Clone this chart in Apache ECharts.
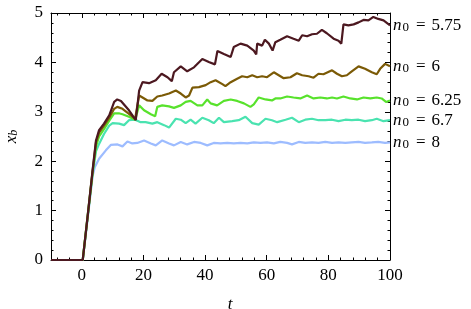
<!DOCTYPE html>
<html><head><meta charset="utf-8">
<script src="https://cdn.jsdelivr.net/npm/echarts@6/dist/echarts.min.js"></script>
<style>html,body{margin:0;padding:0;background:#fff}#c{width:471px;height:309px}</style>
</head><body><div id="c"></div>
<script>
// n0 labels, drawn in order from bottom layer to top layer
const n0Labels = ['8', '6.7', '6.25', '6', '5.75'];
const lineColors = ['#9dbcff', '#4ae3b0', '#58e22c', '#7b5a06', '#4c1820'];

const curve8 = [[-10,0],[0.3,0],[2,0.9],[3.5,1.7],[4.2,1.88],[5.6,2.05],[7.8,2.22],[9.4,2.33],[11.6,2.34],[13.2,2.30],[14.8,2.40],[16.4,2.36],[18.0,2.37],[20.2,2.42],[22.4,2.36],[24,2.32],[26.1,2.42],[28.3,2.36],[29.9,2.32],[32.1,2.39],[34.2,2.34],[36.4,2.39],[38.6,2.37],[40.7,2.32],[42.8,2.37],[45.0,2.36],[47.2,2.37],[49.3,2.36],[51.5,2.37],[53.7,2.36],[55.8,2.38],[58.0,2.37],[60.1,2.38],[62.3,2.36],[64.4,2.39],[66.6,2.37],[68.2,2.34],[70.4,2.39],[72.5,2.37],[74.7,2.38],[76.8,2.37],[79.0,2.39],[81.2,2.37],[83.3,2.38],[85.5,2.37],[87.6,2.38],[89.8,2.39],[91.9,2.37],[94.1,2.38],[96.2,2.39],[98.4,2.37],[100,2.38]];

const curve67 = [[-10,0],[0.3,0],[2,0.93],[3.5,1.75],[4.6,2.2],[5.6,2.35],[7.2,2.55],[8.9,2.72],[10,2.77],[12.1,2.76],[13.7,2.73],[15.3,2.83],[17.3,2.84],[19.1,2.79],[20.7,2.79],[22.9,2.76],[24.5,2.79],[26.7,2.73],[28.3,2.68],[30.5,2.86],[32.1,2.84],[33.7,2.77],[35.3,2.84],[36.9,2.76],[39.1,2.88],[41.2,2.83],[42.8,2.77],[44.5,2.88],[46.1,2.79],[48.8,2.81],[50.9,2.83],[53.1,2.90],[55.3,2.77],[57.4,2.74],[59.6,2.86],[61.7,2.83],[63.4,2.79],[66.1,2.84],[68.2,2.88],[70.4,2.79],[72.5,2.84],[74.7,2.86],[76.8,2.83],[79.0,2.83],[81.2,2.84],[83.3,2.81],[85.5,2.84],[87.6,2.83],[89.8,2.84],[91.9,2.81],[94.1,2.83],[95.7,2.86],[97.9,2.81],[100,2.83]];

const curve625 = [[-10,0],[0.3,0],[2,0.95],[3.5,1.78],[4.6,2.3],[5.6,2.5],[7.2,2.65],[8.9,2.82],[10.5,2.97],[12,2.97],[13.2,2.95],[15.3,2.90],[17.3,2.84],[18.6,3.13],[20.2,3.03],[22.4,2.95],[23.8,2.91],[24.5,3.10],[26.1,3.13],[28.3,3.11],[29.9,3.08],[32.1,3.13],[33.7,3.20],[35.3,3.22],[37.5,3.13],[39.1,3.13],[40.7,3.25],[41.8,3.17],[43.9,3.13],[46.1,3.22],[48.3,3.25],[50.4,3.22],[52.6,3.17],[54.7,3.10],[55.8,3.15],[57.4,3.29],[59.6,3.25],[61.7,3.23],[62.8,3.27],[64.4,3.27],[66.6,3.31],[68.7,3.29],[70.9,3.27],[73.1,3.33],[75.2,3.27],[77.4,3.29],[79.5,3.27],[81.2,3.29],[82.8,3.27],[84.9,3.31],[87.1,3.27],[89.3,3.25],[91.4,3.29],[93.6,3.27],[95.7,3.29],[97.3,3.27],[98.7,3.20],[100,3.23]];

const curve6 = [[-10,0],[0.3,0],[2,0.95],[3.5,1.8],[4.6,2.38],[5.6,2.58],[7.2,2.72],[8.9,2.88],[10.5,3.06],[11.5,3.10],[13.2,3.06],[15.3,2.96],[17.3,2.86],[18.6,3.33],[19.7,3.29],[21.3,3.23],[22.9,3.22],[24.5,3.31],[26.1,3.33],[28.3,3.37],[30.5,3.43],[32.1,3.37],[33.7,3.29],[34.8,3.33],[35.9,3.49],[38.0,3.50],[40.2,3.54],[41.8,3.60],[43.4,3.64],[45.6,3.56],[46.6,3.52],[48.3,3.60],[50.4,3.67],[52.0,3.72],[53.7,3.70],[55.3,3.74],[56.9,3.70],[58.5,3.72],[60.1,3.70],[62.3,3.80],[63.9,3.74],[65.5,3.68],[67.7,3.70],[69.8,3.78],[71.5,3.74],[73.6,3.72],[75.2,3.69],[76.8,3.77],[78.4,3.76],[81.2,3.84],[82.8,3.77],[84.4,3.72],[86.0,3.74],[87.6,3.82],[89.8,3.92],[91.9,3.87],[94.1,3.80],[95.7,3.76],[96.8,3.87],[98.4,3.97],[100,3.92]];

const curve575 = [[-10,0],[0.3,0],[2,0.95],[3.5,1.82],[4.6,2.42],[5.6,2.63],[7.2,2.76],[8.9,2.93],[10.5,3.20],[11.5,3.25],[12.7,3.22],[15.3,3.03],[17.5,2.83],[18.6,3.43],[19.7,3.60],[21.8,3.58],[24,3.64],[25.9,3.77],[27.8,3.70],[29.2,3.62],[29.9,3.80],[32.1,3.92],[34.2,3.82],[36.4,3.90],[39.1,4.07],[41.2,4.01],[43.2,3.96],[44.0,4.23],[46.1,4.17],[48.3,4.11],[49.3,4.31],[51.5,4.38],[53.7,4.34],[55.8,4.24],[56.6,4.16],[56.9,4.38],[58.5,4.34],[59.4,4.46],[60.7,4.38],[61.9,4.24],[62.8,4.41],[64.4,4.46],[66.6,4.53],[68.7,4.48],[70.4,4.44],[71.5,4.55],[73.1,4.53],[74.7,4.57],[76.3,4.58],[77.9,4.66],[79.5,4.59],[81.7,4.48],[83.3,4.44],[84.2,4.38],[84.9,4.77],[86.5,4.75],[88.2,4.77],[89.8,4.81],[91.4,4.86],[93.0,4.85],[94.6,4.92],[96.2,4.88],[97.9,4.85],[100,4.75]];

const curves = [curve8, curve67, curve625, curve6, curve575];

const FONT = 'Liberation Serif';
const richMath = {
  i: { fontFamily: FONT, fontStyle: 'italic', fontSize: 17, color: '#000' },
  s: { fontFamily: FONT, fontSize: 13, color: '#000', verticalAlign: 'bottom', lineHeight: 12, padding: [0, 0, 0, 1] },
  si: { fontFamily: FONT, fontStyle: 'italic', fontSize: 12, color: '#000', verticalAlign: 'bottom', lineHeight: 12 },
  e: { fontFamily: FONT, fontSize: 17, color: '#000', padding: [0, 6, 0, 7] },
  r: { fontFamily: FONT, fontSize: 17, color: '#000' }
};

const tickStyle = { lineStyle: { color: '#000', width: 1 } };
function mkX(pos, labels) {
  return {
    type: 'value', position: pos, min: -10, max: 100, splitNumber: 5,
    axisLine: { show: true, onZero: false, lineStyle: { color: '#000', width: 1 } },
    axisTick: { show: true, inside: true, length: 5, ...tickStyle },
    minorTick: { show: true, splitNumber: 5, length: 2.5, ...tickStyle },
    splitLine: { show: false },
    axisLabel: { show: labels, margin: 7, fontFamily: FONT, fontSize: 17, color: '#000',
      formatter: v => (v < 0 ? '' : String(v)) }
  };
}
function mkY(pos, labels) {
  return {
    type: 'value', position: pos, min: 0, max: 5, interval: 1,
    axisLine: { show: true, onZero: false, lineStyle: { color: '#000', width: 1 } },
    axisTick: { show: true, inside: true, length: 5, ...tickStyle },
    minorTick: { show: true, splitNumber: 5, length: 2.5, ...tickStyle },
    splitLine: { show: false },
    axisLabel: { show: labels, margin: 8, fontFamily: FONT, fontSize: 17, color: '#000' }
  };
}

const xBottom = mkX('bottom', true);
xBottom.name = '{i|t}';
xBottom.nameLocation = 'middle';
xBottom.nameGap = 36;
xBottom.nameTextStyle = { rich: richMath, padding: [0, 0, 0, 19] };
const yLeft = mkY('left', true);
yLeft.name = '{i|x}{si|b}';
yLeft.nameLocation = 'middle';
yLeft.nameGap = 31;
yLeft.nameTextStyle = { rich: richMath };
const xTop = mkX('top', false);
const yRight = mkY('right', false);

const chart = echarts.init(document.getElementById('c'), null, { renderer: 'canvas' });
chart.setOption({
  animation: false,
  backgroundColor: '#fff',
  grid: { left: 51, right: 81, top: 13, bottom: 49, containLabel: false, outerBoundsMode: 'none' },
  xAxis: [xBottom, xTop],
  yAxis: [yLeft, yRight],
  series: curves.map((d, k) => ({
    type: 'line', xAxisIndex: 0, yAxisIndex: 0,
    data: d, showSymbol: false, symbol: 'none', smooth: false,
    lineStyle: { color: lineColors[k], width: 2.2 },
    itemStyle: { color: lineColors[k] },
    z: 2 + k,
    endLabel: {
      show: true, distance: 3,
      formatter: () => '{i|n}{s|0}{e|=}{r|' + n0Labels[k] + '}',
      rich: richMath
    }
  }))
});
</script></body></html>
